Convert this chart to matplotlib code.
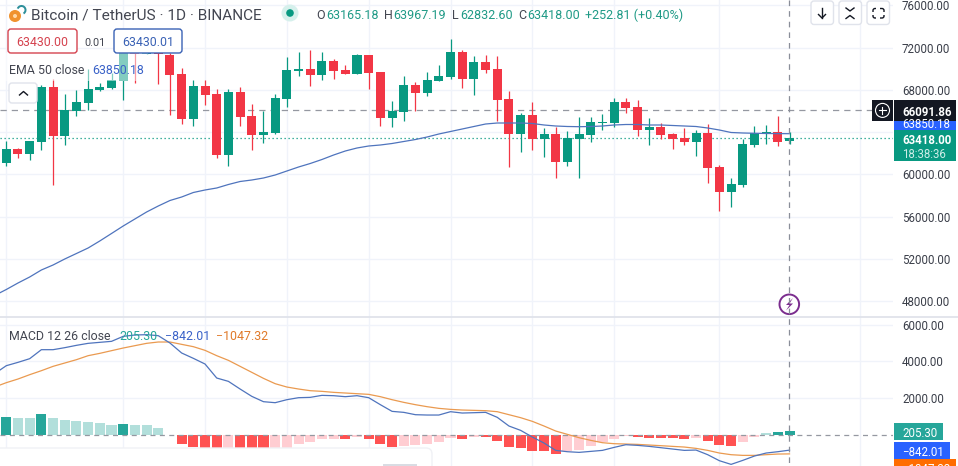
import matplotlib
matplotlib.use("Agg")
import matplotlib.pyplot as plt
from matplotlib.patches import Rectangle, FancyBboxPatch, Circle, Polygon, Wedge
import numpy as np

plt.rcParams['font.family'] = ['Roboto', 'DejaVu Sans']

W, H = 958, 466
GREEN, RED = '#089981', '#f23645'
GRID = '#f0f3fa'
TXT = '#131722'

opens = [61077,62402,61929,63065,68270,63633,65999,66756,67955,68176,68838,72561,71362,72246,71299,69501,65273,68365,67608,61834,
         67797,65526,63728,63885,67135,69817,69974,69406,70731,69880,69501,71299,69690,65336,65904,68460,67703,68838,69217,71583,
         69028,70637,69974,67135,63822,65620,63349,63822,61172,63349,63728,64863,64863,66851,66378,64201,64484,63822,63443,63065,
         63917,60699,58332,58995,62781,63822,64011,63165.18]
highs = [63128,62450,63191,68460,68996,67608,67987,70006,68617,69627,72719,73035,72500,72561,71457,70037,68933,68933,68049,68081,
         68239,66662,65999,67608,71078,71583,71772,71583,70889,70353,71394,71299,69690,66945,69312,68744,69690,70353,72814,71772,
         71205,71299,71205,67892,65809,66851,64390,64484,64106,65431,65431,65715,67229,67229,67040,65336,64863,63917,64390,64201,
         64769,60888,59657,63349,64579,64674,65526,63967.19]
lows = [60825,61582,61361,62339,59026,62781,65526,66094,67892,68081,67040,68649,71362,68586,65620,64769,64579,66567,61582,60825,
        64579,62307,62970,63822,66378,69343,68365,68933,69028,69501,69501,68081,64579,64484,65053,65999,67419,68838,69028,68176,
        67513,69596,65053,60699,62118,62307,61645,59657,60793,59657,63065,64201,64484,65809,63633,62781,63349,62402,62781,61750,
        59185,56534,56913,58806,62592,62875,62686,62832.60]
closes = [62402,61929,63191,68302,63664,66062,66851,68081,68270,68901,72246,71362,72088,71362,69438,65273,68365,67513,61834,67797,
          65431,63728,64011,67229,69880,69974,69406,70731,69785,69501,71299,69596,65336,65999,68460,67703,68933,69312,71583,69028,
          70637,69880,67040,63822,65620,63349,63822,61172,63443,63822,64958,64958,66851,66283,64201,64484,63728,63349,63065,63917,
          60603,58332,59089,62875,63917,64011,63065,63418.00]
# the three line series start one bar earlier, left of the first whole candle
ema50 = [48537,49104,49719,50287,50950,51423,51991,52511,53032,53698,54404,55114,55777,56439,57007,57528,57859,58285,58522,58711,59042,
         59326,59468,59657,59941,60320,60698,61030,61408,61834,62213,62497,62686,62781,62923,63112,63301,63538,63822,64059,64295,
         64532,64768,64863,64863,64863,64816,64674,64579,64532,64513,64532,64579,64674,64721,64721,64674,64674,64627,64579,64532,
         64390,64200,63964,63917,63890,63870,63860,63850.18]
macd_line = [3329,3765,3947,4147,4638,4638,4748,4875,4984,5039,5093,5366,5439,5457,5402,5002,4457,4166,3856,3092,2910,
             2492,2092,1801,1746,1910,2019,2037,2146,2128,2074,2128,2019,1637,1273,1219,1091,1073,1073,1255,1182,
             1200,1219,946,473,236,-127,-455,-855,-928,-964,-910,-855,-691,-546,-582,-637,-709,-782,-855,-837,
             -1091,-1419,-1619,-1401,-1164,-1000,-928,-842.01]
signal_line = [2601,2838,3038,3274,3492,3729,3911,4093,4311,4438,4584,4729,4857,4984,5057,5057,4929,4802,4602,4311,4056,
               3729,3402,3074,2783,2601,2492,2401,2365,2310,2274,2237,2201,2074,1910,1764,1637,1528,1437,1382,1346,
               1328,1310,1255,1091,928,728,473,200,18,-164,-309,-437,-491,-509,-528,-564,-600,-637,-673,-746,
               -855,-1000,-1091,-1128,-1128,-1091,-1055,-1047.32]
histogram = [946,891,885,1110,891,782,728,673,618,509,564,509,505,345,10,-509,-691,-780,-1150,-1100,
             -1200,-1280,-1320,-1030,-760,-527,-418,-250,-240,-255,-110,-255,-527,-691,-637,-582,-527,-418,-200,-255,
             -127,-145,-364,-691,-746,-905,-915,-1073,-870,-850,-637,-418,-255,-90,-145,-164,-170,-182,-218,-164,
             -327,-564,-618,-400,-109,70,127,205.30]
price_ticks = [48000,52000,56000,60000,64000,68000,72000,76000]
macd_ticks = [2000,4000,6000]
time_grid = [0,10,17,24,31,38,45,52,61,73]
last_price, cross_price = 63418.00, 66091.86

# layout, in pixels of the picture
SPAN, X0 = 11.69, 6.3
AX_R, SEP = 893, 317.3
xlim = (-X0/SPAN, (AX_R-X0)/SPAN)
P_TOP, P_SCALE = 76505, 94.65
M_ZERO_Y, M_SCALE = 434.7, 0.01833

fig = plt.figure(figsize=(W/100, H/100), dpi=100, facecolor='white')
ax = fig.add_axes([0, 1-SEP/H, AX_R/W, SEP/H])
am = fig.add_axes([0, 0, AX_R/W, (H-SEP)/H])
for a in (ax, am):
    a.set_xlim(*xlim)
    for s in a.spines.values():
        s.set_visible(False)
    a.set_xticks(time_grid)
    a.tick_params(axis='x', length=0, labelbottom=False)
    a.yaxis.tick_right()
    a.tick_params(axis='y', length=0, pad=6.5, labelsize=8.3, labelcolor='#3a3e49')
    a.grid(True, color=GRID, lw=1)
    a.set_axisbelow(True)
ax.set_ylim(P_TOP - SEP*P_SCALE, P_TOP)
am.set_ylim((M_ZERO_Y-H)/M_SCALE, (M_ZERO_Y-SEP)/M_SCALE)
ax.set_yticks(price_ticks, [f'{v:.2f}' for v in price_ticks])
am.set_yticks(macd_ticks, [f'{v:.2f}' for v in macd_ticks])

idx = np.arange(len(opens))
line_idx = np.arange(-1, len(opens))
o, h, l, c = map(np.array, (opens, highs, lows, closes))
col = [GREEN if cc >= oo else RED for oo, cc in zip(o, c)]
ax.axhline(cross_price, color='#9598a1', lw=0.9, dashes=(5, 4), zorder=1)
ax.axhline(last_price, color=GREEN, lw=0.9, dashes=(1, 2.2), zorder=1)
ax.vlines(idx, l, h, colors=col, lw=0.9, zorder=2)
ax.bar(idx, np.abs(c-o), bottom=np.minimum(o, c), width=0.77, color=col, lw=0, zorder=3)
ax.plot(line_idx, ema50, color='#4f74bd', lw=0.9, zorder=4)

hist = np.array(histogram)
hc = []
for i, v in enumerate(hist):
    grow = i == 0 or abs(v) > abs(hist[i-1])
    if v >= 0:
        hc.append('#26a69a' if grow else '#b2dfdb')
    else:
        hc.append('#ff5252' if grow else '#ffcdd2')
am.bar(idx, hist, width=0.86, color=hc, lw=0, zorder=2)
am.axhline(0, color='#9598a1', lw=0.9, dashes=(4, 3.5), zorder=3)
am.plot(line_idx, signal_line, color='#ea9a50', lw=0.9, zorder=4)
am.plot(line_idx, macd_line, color='#4f74bd', lw=0.9, zorder=5)

# overlay in pixel coordinates for the interface chrome
ov = fig.add_axes([0, 0, 1, 1], zorder=10)
ov.set_xlim(0, W)
ov.set_ylim(H, 0)
ov.axis('off')
ov.patch.set_alpha(0)

def rect(x0, y0, x1, y1, fc, **kw):
    ov.add_patch(Rectangle((x0, y0), x1-x0, y1-y0, fc=fc, ec='none', **kw))

def rbox(x0, y0, x1, y1, fc='white', ec='#e0e3eb', lw=1, r=3, **kw):
    ov.add_patch(FancyBboxPatch((x0+r, y0+r), x1-x0-2*r, y1-y0-2*r, boxstyle=f'round,pad={r}',
                                fc=fc, ec=ec, lw=lw, **kw))

def txt(x, y, s, color=TXT, size=8.3, ha='left', **kw):
    ov.text(x, y, s, color=color, fontsize=size, ha=ha, va='center_baseline', **kw)

# separator and crosshair
ov.plot([0, W], [SEP, SEP], color='#e0e3eb', lw=1.3)
ov.plot([789.3, 789.3], [0, H], color='#8a8e99', lw=0.9, dashes=(4.5, 4))

# popover at lower left
rbox(-12, 448, 432, 490, fc='white', ec='#f0f1f5', lw=1, r=6)
rect(383, 464, 417, 466, '#d9dce3')

# legend, price part
rect(5, 53, 148, 81, 'white', alpha=0.5)
ov.add_patch(Circle((15, 16), 6, fc='#f0922e', ec='none'))
ov.add_patch(Circle((15, 16), 2, fc='#ffd9a8', ec='none'))
ov.add_patch(Wedge((21.5, 10), 5, 200, 60, width=2, fc='#2e8f9a', ec='none'))
txt(31, 14, 'Bitcoin / TetherUS · 1D · BINANCE', color='#434651', size=11.1)
ov.add_patch(Circle((290, 13), 8.5, fc='#d6f0ec', ec='none'))
ov.add_patch(Circle((290, 13), 3.8, fc=GREEN, ec='none'))
for xl, xv, ltr, val in [(316, 326, 'O', '63165.18'), (384, 393, 'H', '63967.19'),
                         (452, 460, 'L', '62832.60'), (518, 527, 'C', '63418.00')]:
    txt(xl, 14, ltr, color='#434651', size=9)
    txt(xv, 14, val, color='#1f9a86', size=9)
txt(585.5, 14, '+252.81 (+0.40%)', color='#1f9a86', size=9)

rbox(8, 29, 77, 53, ec='#d5434f', lw=1)
txt(42.5, 41.5, '63430.00', color='#d5434f', size=8.9, ha='center')
txt(95, 41.5, '0.01', color='#434651', size=7.8, ha='center')
rbox(114, 29, 182, 53, ec='#3a62b5', lw=1)
txt(148, 41.5, '63430.01', color='#3a62b5', size=8.9, ha='center')
txt(9, 69.5, 'EMA 50 close', color='#434651', size=8.9)
txt(92, 69.5, '63850.18', color='#3a62c8', size=8.9)
rbox(9, 83, 37, 103, ec='#e0e3eb')
ov.plot([19.5, 23.5, 27.5], [95, 91.5, 95], color=TXT, lw=1)

# legend, MACD part
txt(9, 335, 'MACD 12 26 close', color='#434651', size=8.9)
txt(119, 335, '205.30', color='#26a69a', size=8.9)
txt(165, 335, '−842.01', color='#3a62c8', size=8.9)
txt(216, 335, '−1047.32', color='#e07a2a', size=8.9)

# top right buttons
for x0 in (811, 839, 867):
    rbox(x0, 1, x0+22.5, 24.5, ec='#e0e3eb')
ov.plot([822, 822], [8, 18], color=TXT, lw=1)
ov.plot([818.5, 822, 825.5], [14.5, 18, 14.5], color=TXT, lw=1)
ov.plot([846, 850, 854], [8, 11, 8], color=TXT, lw=1)
ov.plot([846, 850, 854], [18.5, 15.5, 18.5], color=TXT, lw=1)
rbox(873, 8.5, 884, 18, fc='none', ec=TXT, lw=1, r=2)
rect(876.5, 7, 880.5, 20, 'white')
rect(871, 11.5, 886, 15, 'white')

# lightning mark
ov.add_patch(Circle((789.3, 304.3), 9.8, fc='white', ec='#7b2d8e', lw=1.4))
ov.add_patch(Polygon([(793, 298), (786, 305), (789.5, 305), (786, 310.5), (793, 303.5), (789.5, 303.5)],
                     fc='#7b2d8e', ec='none'))

# price scale tags: blue first, the black and green ones lie over it
rect(894, 114, 955.7, 135, '#2962ff')
txt(902, 122.7, f'{ema50[-1]:.2f}', color='white', size=8.3)
rect(872, 100, 893, 120.7, '#131722')
ov.add_patch(Circle((882.5, 110.4), 7, fc='none', ec='white', lw=0.8))
ov.plot([879, 886], [110.4, 110.4], color='white', lw=0.8)
ov.plot([882.5, 882.5], [107, 113.8], color='white', lw=0.8)
rect(894, 100, 955.7, 120.7, '#131722')
txt(902, 110.6, f'{cross_price:.2f}', color='white', size=8.3, weight='bold')
rect(894, 130.3, 955.7, 160.7, GREEN)
txt(902, 139, f'{last_price:.2f}', color='white', size=8.3, weight='bold')
txt(902, 152.7, '18:38:36', color='#cfeee8', size=8.3)

rect(894, 423.3, 942.7, 440, '#26a69a')
txt(902, 432, f'{histogram[-1]:.2f}', color='white', size=8.3)
rect(894, 442, 950, 458.7, '#2962ff')
txt(902, 450.7, f'−{abs(macd_line[-1]):.2f}', color='white', size=8.3)
rect(894, 459.3, 955.7, 480, '#ff6d00')
txt(902, 468, f'−{abs(signal_line[-1]):.2f}', color='white', size=8.3)

fig.savefig('out.png', dpi=100, facecolor='white')
